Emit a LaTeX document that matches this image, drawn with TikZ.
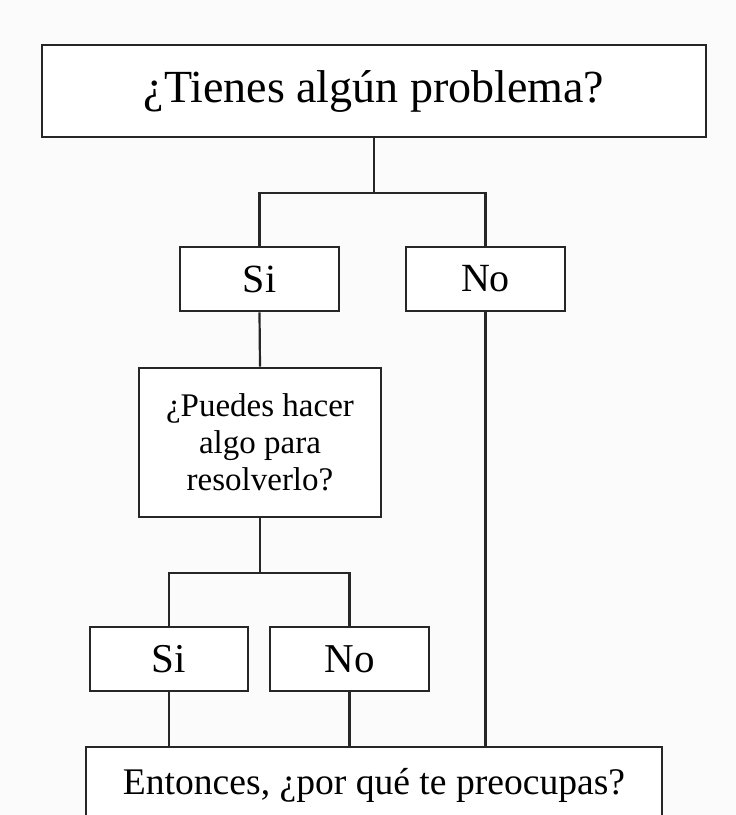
\documentclass[tikz,border=0pt]{standalone}
\usepackage{fontspec}
\setmainfont{Liberation Serif}
\begin{document}
\begin{tikzpicture}[x=1pt,y=-1pt,
  box/.style={draw=black!85, line width=2.8pt, fill=white, inner sep=0pt, align=center, text=black},
  link/.style={draw=black!85, line width=2.2pt}]
\fill[white!98.5!black] (0,0) rectangle (736,815);
\useasboundingbox (0,0) rectangle (736,815);
\clip (0,0) rectangle (736,815);
\node[box, minimum width=664pt, minimum height=92pt, font=\fontsize{46}{50}\selectfont] (top) at (374,91) {¿Tienes algún problema?};
\node[box, minimum width=159pt, minimum height=64pt, font=\fontsize{40}{44}\selectfont] (si1) at (259.5,279) {Si};
\node[box, minimum width=159pt, minimum height=64pt, font=\fontsize{40}{44}\selectfont] (no1) at (485.5,279) {No};
\node[box, minimum width=242pt, minimum height=149pt, font=\fontsize{33}{37}\selectfont] (q2) at (260,442.5) {¿Puedes hacer\\algo para\\resolverlo?};
\node[box, minimum width=158pt, minimum height=64pt, font=\fontsize{41}{44}\selectfont] (si2) at (169,659) {Si};
\node[box, minimum width=159pt, minimum height=64pt, font=\fontsize{41}{44}\selectfont] (no2) at (349.5,659) {No};
\node[box, minimum width=576pt, minimum height=76pt, font=\fontsize{37.6}{42}\selectfont] (bot) at (374,785) {Entonces, ¿por qué te preocupas?};
\coordinate (j1) at (top.south |- 0,193);
\coordinate (j2) at (q2.south |- 0,573);
\draw[link] (top.south) -- (j1);
\draw[link] (si1.north) |- (j1) -| (no1.north);
\draw[link] (si1.south) -- (q2.north);
\draw[link] (q2.south) -- (j2);
\draw[link] (si2.north) |- (j2) -| (no2.north);
\draw[link] (si2.south) -- (si2.south |- bot.north);
\draw[link] (no2.south) -- (no2.south |- bot.north);
\draw[link] (no1.south) -- (no1.south |- bot.north);
\end{tikzpicture}
\end{document}
